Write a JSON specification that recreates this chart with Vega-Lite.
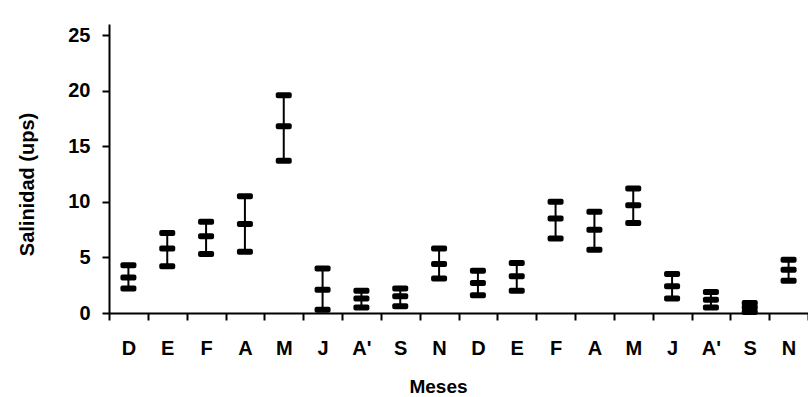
{
  "$schema": "https://vega.github.io/schema/vega-lite/v6.json",
  "width": 699,
  "height": 289,
  "autosize": {"type": "none"},
  "padding": {"left": 109, "top": 24, "right": 0, "bottom": 84},
  "background": "white",
  "config": {
    "view": {"stroke": null},
    "font": "Liberation Sans",
    "axis": {
      "domainColor": "black", "tickColor": "black", "labelColor": "black", "titleColor": "black",
      "grid": false, "labelFont": "Liberation Sans", "titleFont": "Liberation Sans",
      "labelFontWeight": "bold", "titleFontWeight": "bold", "labelFontSize": 20, "titleFontSize": 19,
      "domainWidth": 2, "tickWidth": 2, "tickSize": 7
    }
  },
  "data": {
    "values": [
      {"i": 1, "mes": "D", "low": 2.2, "mean": 3.2, "high": 4.3},
      {"i": 2, "mes": "E", "low": 4.2, "mean": 5.8, "high": 7.2},
      {"i": 3, "mes": "F", "low": 5.3, "mean": 6.9, "high": 8.2},
      {"i": 4, "mes": "A", "low": 5.5, "mean": 8.0, "high": 10.5},
      {"i": 5, "mes": "M", "low": 13.7, "mean": 16.8, "high": 19.6},
      {"i": 6, "mes": "J", "low": 0.3, "mean": 2.1, "high": 4.0},
      {"i": 7, "mes": "A'", "low": 0.5, "mean": 1.3, "high": 2.0},
      {"i": 8, "mes": "S", "low": 0.6, "mean": 1.5, "high": 2.2},
      {"i": 9, "mes": "N", "low": 3.1, "mean": 4.4, "high": 5.8},
      {"i": 10, "mes": "D", "low": 1.6, "mean": 2.7, "high": 3.8},
      {"i": 11, "mes": "E", "low": 2.0, "mean": 3.3, "high": 4.5},
      {"i": 12, "mes": "F", "low": 6.7, "mean": 8.5, "high": 10.0},
      {"i": 13, "mes": "A", "low": 5.7, "mean": 7.5, "high": 9.1},
      {"i": 14, "mes": "M", "low": 8.1, "mean": 9.7, "high": 11.2},
      {"i": 15, "mes": "J", "low": 1.3, "mean": 2.4, "high": 3.5},
      {"i": 16, "mes": "A'", "low": 0.5, "mean": 1.2, "high": 1.9},
      {"i": 17, "mes": "S", "low": 0.1, "mean": 0.5, "high": 0.9},
      {"i": 18, "mes": "N", "low": 2.9, "mean": 3.9, "high": 4.8}
    ]
  },
  "encoding": {
    "x": {
      "field": "i", "type": "ordinal",
      "scale": {"paddingInner": 0, "paddingOuter": 0},
      "axis": {
        "title": "Meses", "labelAngle": 0, "tickBand": "extent", "labelPadding": 18,
        "labelExpr": "['D','E','F','A','M','J','A\\'','S','N','D','E','F','A','M','J','A\\'','S','N'][datum.value-1]",
        "titleX": 329, "titleY": 79, "titleBaseline": "alphabetic", "titleAnchor": null, "titleAlign": "center"
      }
    }
  },
  "layer": [
    {
      "mark": {"type": "rule", "color": "black", "strokeWidth": 2},
      "encoding": {
        "y": {"field": "low", "type": "quantitative", "scale": {"domain": [0, 25]},
          "axis": {"title": "Salinidad (ups)", "values": [0, 5, 10, 15, 20, 25], "labelPadding": 12,
            "titleX": -76, "titleY": 160, "titleBaseline": "alphabetic", "titleAlign": "center", "titleAngle": -90, "titleAnchor": null, "titleFontSize": 20}},
        "y2": {"field": "high"}
      }
    },
    {"mark": {"type": "tick", "color": "black", "size": 16, "thickness": 6, "opacity": 1, "cornerRadius": 2}, "encoding": {"y": {"field": "low", "type": "quantitative"}}},
    {"mark": {"type": "tick", "color": "black", "size": 16, "thickness": 6, "opacity": 1, "cornerRadius": 2}, "encoding": {"y": {"field": "mean", "type": "quantitative"}}},
    {"mark": {"type": "tick", "color": "black", "size": 16, "thickness": 6, "opacity": 1, "cornerRadius": 2}, "encoding": {"y": {"field": "high", "type": "quantitative"}}}
  ]
}
